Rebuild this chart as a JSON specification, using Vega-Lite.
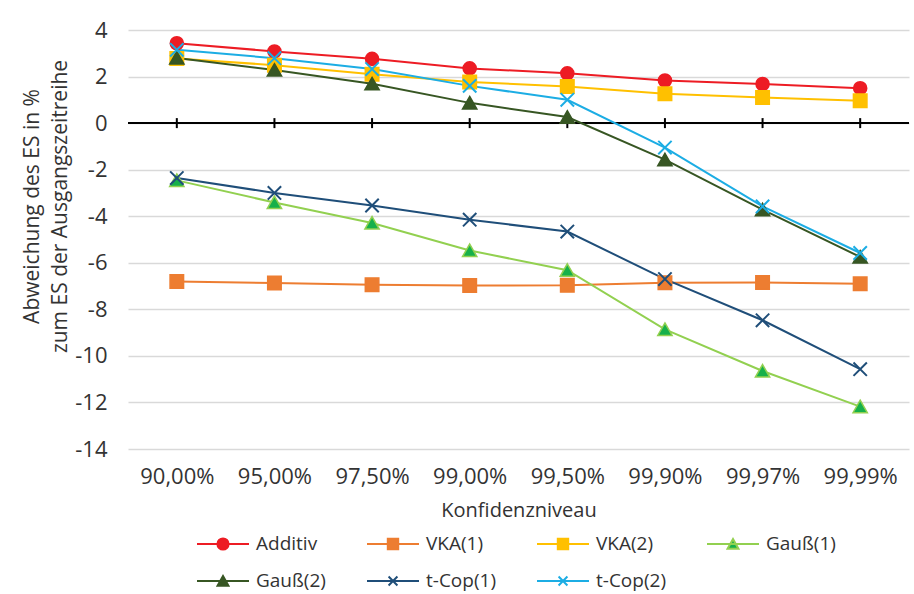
{
  "$schema": "https://vega.github.io/schema/vega-lite/v6.json",
  "width": 781,
  "height": 419,
  "autosize": {"type": "none"},
  "padding": {"left": 128, "top": 30, "right": 5, "bottom": 145},
  "background": "white",
  "config": {
    "view": {"stroke": null},
    "font": "Open Sans"
  },
  "data": {
    "values": [
      {"level": "90,00%", "series": "Additiv", "value": 3.43},
      {"level": "95,00%", "series": "Additiv", "value": 3.08},
      {"level": "97,50%", "series": "Additiv", "value": 2.76},
      {"level": "99,00%", "series": "Additiv", "value": 2.35},
      {"level": "99,50%", "series": "Additiv", "value": 2.14},
      {"level": "99,90%", "series": "Additiv", "value": 1.83},
      {"level": "99,97%", "series": "Additiv", "value": 1.68},
      {"level": "99,99%", "series": "Additiv", "value": 1.50},
      {"level": "90,00%", "series": "VKA(1)", "value": -6.80},
      {"level": "95,00%", "series": "VKA(1)", "value": -6.87},
      {"level": "97,50%", "series": "VKA(1)", "value": -6.94},
      {"level": "99,00%", "series": "VKA(1)", "value": -6.98},
      {"level": "99,50%", "series": "VKA(1)", "value": -6.97},
      {"level": "99,90%", "series": "VKA(1)", "value": -6.86},
      {"level": "99,97%", "series": "VKA(1)", "value": -6.85},
      {"level": "99,99%", "series": "VKA(1)", "value": -6.90},
      {"level": "90,00%", "series": "VKA(2)", "value": 2.78},
      {"level": "95,00%", "series": "VKA(2)", "value": 2.49},
      {"level": "97,50%", "series": "VKA(2)", "value": 2.10},
      {"level": "99,00%", "series": "VKA(2)", "value": 1.77},
      {"level": "99,50%", "series": "VKA(2)", "value": 1.57},
      {"level": "99,90%", "series": "VKA(2)", "value": 1.26},
      {"level": "99,97%", "series": "VKA(2)", "value": 1.10},
      {"level": "99,99%", "series": "VKA(2)", "value": 0.96},
      {"level": "90,00%", "series": "Gauß(1)", "value": -2.46},
      {"level": "95,00%", "series": "Gauß(1)", "value": -3.41},
      {"level": "97,50%", "series": "Gauß(1)", "value": -4.29},
      {"level": "99,00%", "series": "Gauß(1)", "value": -5.47},
      {"level": "99,50%", "series": "Gauß(1)", "value": -6.32},
      {"level": "99,90%", "series": "Gauß(1)", "value": -8.86},
      {"level": "99,97%", "series": "Gauß(1)", "value": -10.65},
      {"level": "99,99%", "series": "Gauß(1)", "value": -12.18},
      {"level": "90,00%", "series": "Gauß(2)", "value": 2.80},
      {"level": "95,00%", "series": "Gauß(2)", "value": 2.28},
      {"level": "97,50%", "series": "Gauß(2)", "value": 1.69},
      {"level": "99,00%", "series": "Gauß(2)", "value": 0.87},
      {"level": "99,50%", "series": "Gauß(2)", "value": 0.26},
      {"level": "99,90%", "series": "Gauß(2)", "value": -1.57},
      {"level": "99,97%", "series": "Gauß(2)", "value": -3.72},
      {"level": "99,99%", "series": "Gauß(2)", "value": -5.75},
      {"level": "90,00%", "series": "t-Cop(1)", "value": -2.36},
      {"level": "95,00%", "series": "t-Cop(1)", "value": -3.00},
      {"level": "97,50%", "series": "t-Cop(1)", "value": -3.54},
      {"level": "99,00%", "series": "t-Cop(1)", "value": -4.15},
      {"level": "99,50%", "series": "t-Cop(1)", "value": -4.66},
      {"level": "99,90%", "series": "t-Cop(1)", "value": -6.70},
      {"level": "99,97%", "series": "t-Cop(1)", "value": -8.47},
      {"level": "99,99%", "series": "t-Cop(1)", "value": -10.57},
      {"level": "90,00%", "series": "t-Cop(2)", "value": 3.15},
      {"level": "95,00%", "series": "t-Cop(2)", "value": 2.79},
      {"level": "97,50%", "series": "t-Cop(2)", "value": 2.32},
      {"level": "99,00%", "series": "t-Cop(2)", "value": 1.60},
      {"level": "99,50%", "series": "t-Cop(2)", "value": 1.00},
      {"level": "99,90%", "series": "t-Cop(2)", "value": -1.05},
      {"level": "99,97%", "series": "t-Cop(2)", "value": -3.58},
      {"level": "99,99%", "series": "t-Cop(2)", "value": -5.58}
    ]
  },
  "layer": [
    {
      "mark": {"type": "rule", "color": "#000000", "strokeWidth": 2},
      "encoding": {"y": {"datum": 0, "type": "quantitative"}}
    },
    {
      "transform": [{"aggregate": [{"op": "count", "as": "n"}], "groupby": ["level"]}],
      "mark": {"type": "point", "shape": "M0,-1V1", "size": 100, "filled": false, "stroke": "#000000", "strokeWidth": 2, "opacity": 1},
      "encoding": {
        "x": {"field": "level", "type": "ordinal"},
        "y": {"datum": 0, "type": "quantitative"}
      }
    },
    {
      "mark": {"type": "line", "strokeWidth": 2},
      "encoding": {
        "x": {
          "field": "level",
          "type": "ordinal",
          "scale": {"type": "point", "padding": 0.5},
          "axis": {
            "title": "Konfidenzniveau",
            "labelAngle": 0,
            "labelAlign": "center",
            "labelBaseline": "top",
            "labelFontSize": 22,
            "labelPadding": 17,
            "labelColor": "#333333",
            "ticks": false,
            "domain": false,
            "grid": false,
            "titleFontSize": 20,
            "titleFontWeight": "normal",
            "titleColor": "#333333",
            "titlePadding": 13
          }
        },
        "y": {
          "field": "value",
          "type": "quantitative",
          "scale": {"domain": [-14, 4], "nice": false, "zero": false},
          "axis": {
            "values": [-14, -12, -10, -8, -6, -4, -2, 0, 2, 4],
            "labelExpr": "datum.value < 0 ? '-' + abs(datum.value) : '' + datum.value",
            "title": ["Abweichung des ES in %", "zum ES der Ausgangszeitreihe"],
            "titleFontSize": 21,
            "titleFontWeight": "normal",
            "titleColor": "#333333",
            "titleLineHeight": 28,
            "titleAngle": -90,
            "titleAlign": "center",
            "titleBaseline": "middle",
            "titleX": -96,
            "titleY": 176,
            "labelFontSize": 22,
            "labelPadding": 21,
            "labelColor": "#333333",
            "ticks": false,
            "tickSize": 0,
            "domain": false,
            "grid": true,
            "gridColor": "#d9d9d9",
            "gridWidth": 1.5
          }
        },
        "stroke": {
          "field": "series",
          "type": "nominal",
          "scale": {
            "domain": ["Additiv", "VKA(1)", "VKA(2)", "Gauß(1)", "Gauß(2)", "t-Cop(1)", "t-Cop(2)"],
            "range": ["#ED1C24", "#ED7D31", "#FFC000", "#92D050", "#375623", "#1F4E79", "#1CADE4"]
          },
          "legend": {"title": null, "orient": "none", "legendX": 68, "legendY": 487, "direction": "horizontal", "columns": 4, "symbolSize": 2704, "symbolStrokeWidth": 2, "symbolOpacity": 1, "labelFontSize": 19, "labelFont": "Open Sans", "labelColor": "#333333", "labelOffset": 6, "columnPadding": 37, "rowPadding": -22, "gridAlign": "all", "padding": 0}
        }
      }
    },
    {
      "transform": [{"filter": "datum.series === 'Additiv'"}],
      "mark": {"type": "point", "shape": "M-0.215,0A0.215,0.215,0,1,0,0.215,0A0.215,0.215,0,1,0,-0.215,0Z", "filled": true, "size": 3700, "strokeWidth": 1.5, "opacity": 1},
      "encoding": {
        "x": {"field": "level", "type": "ordinal"},
        "y": {"field": "value", "type": "quantitative"},
        "stroke": {"field": "series", "type": "nominal", "legend": {"title": null, "orient": "none", "legendX": 68, "legendY": 487, "direction": "horizontal", "columns": 4, "symbolSize": 2704, "symbolStrokeWidth": 2, "symbolOpacity": 1, "labelFontSize": 19, "labelFont": "Open Sans", "labelColor": "#333333", "labelOffset": 6, "columnPadding": 37, "rowPadding": -22, "gridAlign": "all", "padding": 0}},
        "fill": {
          "field": "series",
          "type": "nominal",
          "scale": {
            "domain": ["Additiv", "VKA(1)", "VKA(2)", "Gauß(1)", "Gauß(2)", "t-Cop(1)", "t-Cop(2)"],
            "range": ["#ED1C24", "#ED7D31", "#FFC000", "#16B04A", "#375623", "#1F4E79", "#1CADE4"]
          },
          "legend": {"title": null, "orient": "none", "legendX": 68, "legendY": 487, "direction": "horizontal", "columns": 4, "symbolSize": 2704, "symbolStrokeWidth": 2, "symbolOpacity": 1, "labelFontSize": 19, "labelFont": "Open Sans", "labelColor": "#333333", "labelOffset": 6, "columnPadding": 37, "rowPadding": -22, "gridAlign": "all", "padding": 0}
        }
      }
    },
    {
      "transform": [{"filter": "indexof(datum.series, 'VKA') === 0"}],
      "mark": {"type": "point", "shape": "M-0.222,-0.222H0.222V0.222H-0.222Z", "filled": true, "size": 3700, "strokeWidth": 1.5, "opacity": 1},
      "encoding": {
        "x": {"field": "level", "type": "ordinal"},
        "y": {"field": "value", "type": "quantitative"},
        "stroke": {"field": "series", "type": "nominal", "legend": {"title": null, "orient": "none", "legendX": 68, "legendY": 487, "direction": "horizontal", "columns": 4, "symbolSize": 2704, "symbolStrokeWidth": 2, "symbolOpacity": 1, "labelFontSize": 19, "labelFont": "Open Sans", "labelColor": "#333333", "labelOffset": 6, "columnPadding": 37, "rowPadding": -22, "gridAlign": "all", "padding": 0}},
        "fill": {"field": "series", "type": "nominal", "legend": {"title": null, "orient": "none", "legendX": 68, "legendY": 487, "direction": "horizontal", "columns": 4, "symbolSize": 2704, "symbolStrokeWidth": 2, "symbolOpacity": 1, "labelFontSize": 19, "labelFont": "Open Sans", "labelColor": "#333333", "labelOffset": 6, "columnPadding": 37, "rowPadding": -22, "gridAlign": "all", "padding": 0}}
      }
    },
    {
      "transform": [{"filter": "indexof(datum.series, 'Gau') === 0"}],
      "mark": {"type": "point", "shape": "M0,-0.21L0.235,0.2H-0.235Z", "filled": true, "size": 3700, "strokeWidth": 1.5, "opacity": 1},
      "encoding": {
        "x": {"field": "level", "type": "ordinal"},
        "y": {"field": "value", "type": "quantitative"},
        "stroke": {"field": "series", "type": "nominal", "legend": {"title": null, "orient": "none", "legendX": 68, "legendY": 487, "direction": "horizontal", "columns": 4, "symbolSize": 2704, "symbolStrokeWidth": 2, "symbolOpacity": 1, "labelFontSize": 19, "labelFont": "Open Sans", "labelColor": "#333333", "labelOffset": 6, "columnPadding": 37, "rowPadding": -22, "gridAlign": "all", "padding": 0}},
        "fill": {"field": "series", "type": "nominal", "legend": {"title": null, "orient": "none", "legendX": 68, "legendY": 487, "direction": "horizontal", "columns": 4, "symbolSize": 2704, "symbolStrokeWidth": 2, "symbolOpacity": 1, "labelFontSize": 19, "labelFont": "Open Sans", "labelColor": "#333333", "labelOffset": 6, "columnPadding": 37, "rowPadding": -22, "gridAlign": "all", "padding": 0}}
      }
    },
    {
      "transform": [{"filter": "indexof(datum.series, 't-Cop') === 0"}],
      "mark": {"type": "point", "shape": "M-0.22,-0.22L0.22,0.22M-0.22,0.22L0.22,-0.22", "filled": false, "size": 3700, "strokeWidth": 2, "opacity": 1},
      "encoding": {
        "x": {"field": "level", "type": "ordinal"},
        "y": {"field": "value", "type": "quantitative"},
        "stroke": {"field": "series", "type": "nominal", "legend": {"title": null, "orient": "none", "legendX": 68, "legendY": 487, "direction": "horizontal", "columns": 4, "symbolSize": 2704, "symbolStrokeWidth": 2, "symbolOpacity": 1, "labelFontSize": 19, "labelFont": "Open Sans", "labelColor": "#333333", "labelOffset": 6, "columnPadding": 37, "rowPadding": -22, "gridAlign": "all", "padding": 0}}
      }
    },
    {
      "mark": {"type": "point", "filled": true, "size": 1, "opacity": 0},
      "encoding": {
        "x": {"field": "level", "type": "ordinal"},
        "y": {"field": "value", "type": "quantitative"},
        "shape": {
          "field": "series",
          "type": "nominal",
          "scale": {
            "domain": ["Additiv", "VKA(1)", "VKA(2)", "Gauß(1)", "Gauß(2)", "t-Cop(1)", "t-Cop(2)"],
            "range": [
              "M-1,0H1M-0.215,0A0.215,0.215,0,1,0,0.215,0A0.215,0.215,0,1,0,-0.215,0Z",
              "M-1,0H1M-0.2,-0.2H0.2V0.2H-0.2Z",
              "M-1,0H1M-0.2,-0.2H0.2V0.2H-0.2Z",
              "M-1,0H1M0,-0.19L0.21,0.18H-0.21Z",
              "M-1,0H1M0,-0.19L0.21,0.18H-0.21Z",
              "M-1,0H1M-0.17,-0.17L0.17,0.17M-0.17,0.17L0.17,-0.17",
              "M-1,0H1M-0.17,-0.17L0.17,0.17M-0.17,0.17L0.17,-0.17"
            ]
          },
          "legend": {"title": null, "orient": "none", "legendX": 68, "legendY": 487, "direction": "horizontal", "columns": 4, "symbolSize": 2704, "symbolStrokeWidth": 2, "symbolOpacity": 1, "labelFontSize": 19, "labelFont": "Open Sans", "labelColor": "#333333", "labelOffset": 6, "columnPadding": 37, "rowPadding": -22, "gridAlign": "all", "padding": 0}
        },
        "stroke": {"field": "series", "type": "nominal", "legend": {"title": null, "orient": "none", "legendX": 68, "legendY": 487, "direction": "horizontal", "columns": 4, "symbolSize": 2704, "symbolStrokeWidth": 2, "symbolOpacity": 1, "labelFontSize": 19, "labelFont": "Open Sans", "labelColor": "#333333", "labelOffset": 6, "columnPadding": 37, "rowPadding": -22, "gridAlign": "all", "padding": 0}},
        "fill": {"field": "series", "type": "nominal", "legend": {"title": null, "orient": "none", "legendX": 68, "legendY": 487, "direction": "horizontal", "columns": 4, "symbolSize": 2704, "symbolStrokeWidth": 2, "symbolOpacity": 1, "labelFontSize": 19, "labelFont": "Open Sans", "labelColor": "#333333", "labelOffset": 6, "columnPadding": 37, "rowPadding": -22, "gridAlign": "all", "padding": 0}}
      }
    }
  ]
}
